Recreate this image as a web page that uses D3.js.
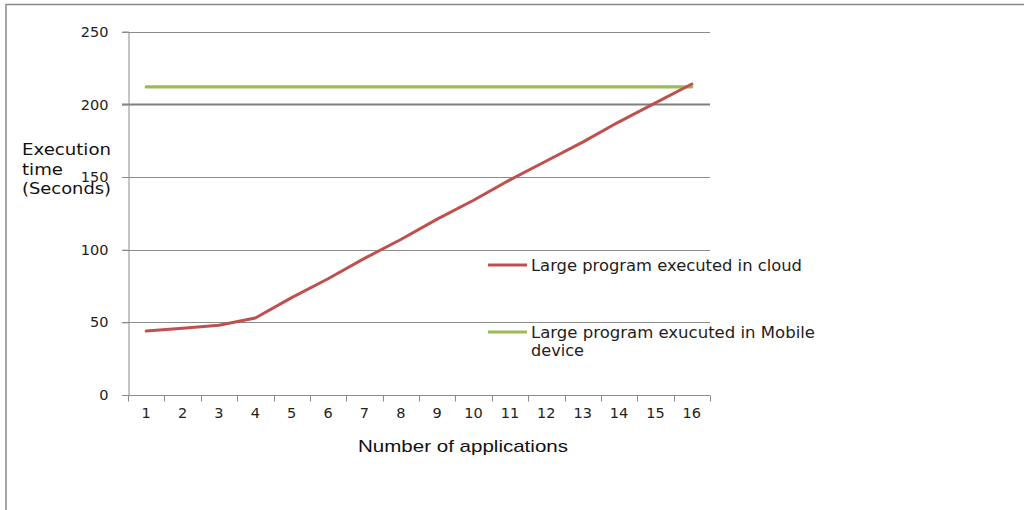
<!DOCTYPE html>
<html>
<head>
<meta charset="utf-8">
<script src="https://cdn.jsdelivr.net/npm/d3@7"></script>
<style>
  html, body { margin: 0; padding: 0; background: #fff; }
  svg { display: block; }
</style>
</head>
<body>
<script>
// Execution time per number of applications
const categories = ["1","2","3","4","5","6","7","8","9","10","11","12","13","14","15","16"];
const cloudTimes = [44, 46, 48, 53, 67, 80, 94, 107, 121, 134, 148, 161, 174, 188, 201, 214];
const mobileTimes = [212, 212, 212, 212, 212, 212, 212, 212, 212, 212, 212, 212, 212, 212, 212, 212];
const yTicks = [0, 50, 100, 150, 200, 250];
const seriesNames = ["Large program executed in cloud", "Large program exucuted in Mobile device"];

const W = 1024, H = 510;
const plot = { left: 128, right: 710, top: 31.7, bottom: 395 };

const svg = d3.select("body").append("svg").attr("width", W).attr("height", H);

// outer frame (top and left edges)
svg.append("path")
  .attr("d", `M6,${H} L6,4.5 L${W},4.5`)
  .attr("fill", "none").attr("stroke", "#8a8a8a").attr("stroke-width", 1.5);

const x = d3.scaleBand().domain(categories).range([plot.left, plot.right]).paddingInner(0).paddingOuter(0);
const y = d3.scaleLinear().domain([0, 250]).range([plot.bottom, plot.top]);

const tickFont = "DejaVu Sans, Verdana, sans-serif";

// horizontal gridlines
svg.append("g").selectAll("line").data(yTicks.filter(d => d > 0)).join("line")
  .attr("x1", plot.left - 6).attr("x2", plot.right)
  .attr("y1", d => Math.round(y(d)) + 0.5).attr("y2", d => Math.round(y(d)) + 0.5)
  .attr("stroke", d => d === 200 ? "#7f7f7f" : "#8c8c8c")
  .attr("stroke-width", d => d === 200 ? 1.8 : 1);

// y axis
const yAxis = d3.axisLeft(y).tickValues(yTicks).tickSize(6).tickPadding(14);
const gy = svg.append("g").attr("transform", `translate(${plot.left + 0.5},0)`).call(yAxis);
gy.select(".domain").attr("stroke", "#8c8c8c");
gy.selectAll(".tick line").attr("stroke", "#8c8c8c");
gy.selectAll(".tick text").attr("font-family", tickFont).attr("font-size", 14.5).attr("fill", "#222");

// x axis with ticks between categories
const xAxis = d3.axisBottom(x).tickSize(0).tickPadding(12);
const gx = svg.append("g").attr("transform", `translate(0,${Math.round(plot.bottom) + 0.5})`).call(xAxis);
gx.select(".domain").attr("stroke", "#8c8c8c").attr("d", `M${plot.left - 6},0H${plot.right}`);
gx.selectAll(".tick text").attr("font-family", tickFont).attr("font-size", 14.5).attr("fill", "#222");
gx.selectAll(".boundary").data(d3.range(categories.length + 1)).join("line")
  .attr("class", "boundary")
  .attr("x1", i => Math.round(plot.left + i * x.bandwidth()) + 0.5)
  .attr("x2", i => Math.round(plot.left + i * x.bandwidth()) + 0.5)
  .attr("y1", 0).attr("y2", 6)
  .attr("stroke", "#8c8c8c");

// series lines
const line = d3.line().x((d, i) => x(categories[i]) + x.bandwidth() / 2).y(d => y(d));
svg.append("path").datum(mobileTimes).attr("d", line)
  .attr("fill", "none").attr("stroke", "#9bbb59").attr("stroke-width", 3.2).attr("stroke-linecap", "round");
svg.append("path").datum(cloudTimes).attr("d", line)
  .attr("fill", "none").attr("stroke", "#c0504d").attr("stroke-width", 3).attr("stroke-linecap", "round").attr("stroke-linejoin", "round");

// y axis title
const yTitle = svg.append("text").attr("font-family", tickFont).attr("font-size", 16).attr("fill", "#111");
[["Execution", 89], ["time", 41], ["(Seconds)", 89]].forEach(([t, len], i) => {
  yTitle.append("tspan").attr("x", 22).attr("y", 155 + i * 19.5)
    .attr("textLength", len).attr("lengthAdjust", "spacingAndGlyphs").text(t);
});

// x axis title
svg.append("text").attr("x", 358).attr("y", 452)
  .attr("font-family", "Liberation Sans, Arial, sans-serif").attr("font-size", 17).attr("fill", "#111")
  .attr("textLength", 210).attr("lengthAdjust", "spacingAndGlyphs")
  .text("Number of applications");

// legend
const legendColors = ["#c0504d", "#9bbb59"];
const legendRows = [[["Large program executed in cloud", 271]], [["Large program exucuted in Mobile", 284], ["device", 53]]];
const legendY = [265, 332];
const lg = svg.append("g");
seriesNames.forEach((name, i) => {
  lg.append("line").attr("x1", 488).attr("x2", 527).attr("y1", legendY[i]).attr("y2", legendY[i])
    .attr("stroke", legendColors[i]).attr("stroke-width", 3);
  const t = lg.append("text").attr("font-family", tickFont).attr("font-size", 15).attr("fill", "#222");
  legendRows[i].forEach(([r, len], j) => {
    t.append("tspan").attr("x", 531).attr("y", legendY[i] + 5.5 + j * 18)
      .attr("textLength", len).attr("lengthAdjust", "spacingAndGlyphs").text(r);
  });
});
</script>
</body>
</html>
